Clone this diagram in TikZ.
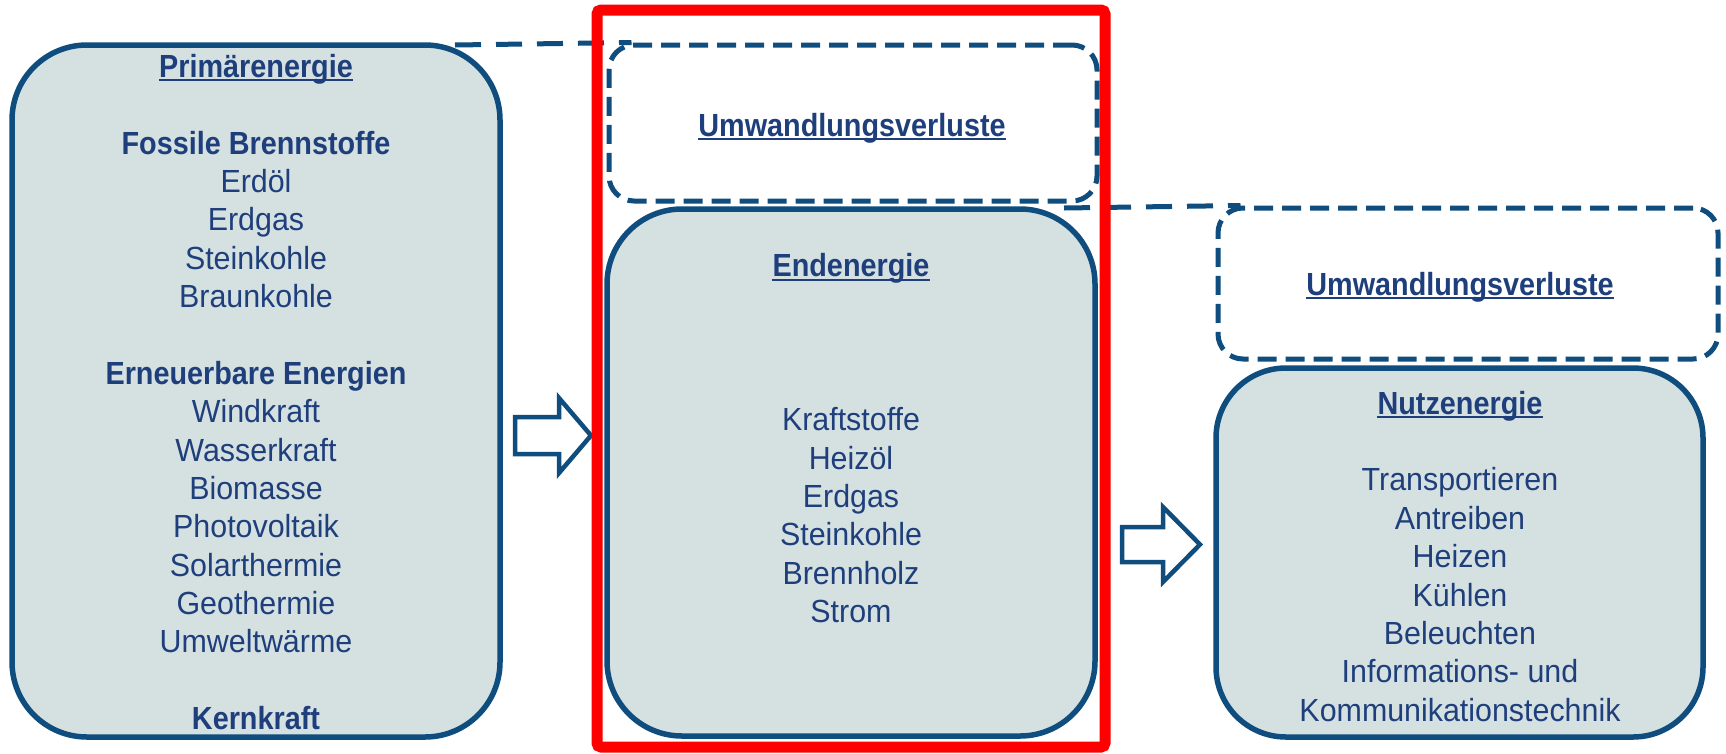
\documentclass[tikz,border=0pt]{standalone}
\usepackage{fontspec}
\setmainfont{Liberation Sans}[FakeStretch=0.95, BoldFeatures={FakeStretch=0.9}]
\definecolor{edge}{HTML}{0E4D7E}
\definecolor{boxfill}{HTML}{D5E0E1}
\definecolor{ink}{HTML}{1E3F7B}
\definecolor{frame}{HTML}{FF0000}
\newcommand{\grp}[1]{\textbf{#1}}
\tikzset{
  solidbox/.style={draw=edge, fill=boxfill, line width=5.5pt, rounded corners=75pt, inner sep=0pt, rectangle},
  lossbox/.style={draw=edge, fill=white, line width=5pt, dash pattern=on 19pt off 9pt, rounded corners=25pt, inner sep=0pt, rectangle},
  conn/.style={draw=edge, line width=5pt, dash pattern=on 26pt off 15pt},
  blockarrow/.style={draw=edge, fill=white, line width=4.5pt, miter limit=10},
  redframe/.style={draw=frame, line width=11pt, rounded corners=4pt, inner sep=0pt, rectangle},
  txt/.style={text=ink, inner sep=0pt, anchor=base, font=\fontsize{32}{38.4}\selectfont},
  ttl/.style={txt, font=\fontsize{32}{38.4}\selectfont\bfseries},
  uline/.style={draw=ink, line width=1.8pt}
}
\newcommand{\underl}[1]{\draw[uline] ([yshift=-3pt]#1.base west) -- ([yshift=-3pt]#1.base east);}
\begin{document}
\begin{tikzpicture}[x=1pt, y=-1pt]
\useasboundingbox (0,0) rectangle (1726,753);
% boxes
\node[solidbox, minimum width=488pt, minimum height=692pt] (prim) at (256,391) {};
\node[lossbox, minimum width=488pt, minimum height=156pt] (loss1) at (853,123) {};
\node[solidbox, minimum width=488pt, minimum height=527pt] (end) at (851,472.5) {};
\node[lossbox, minimum width=500pt, minimum height=151pt] (loss2) at (1468,283.5) {};
\node[solidbox, rounded corners=70pt, minimum width=487pt, minimum height=369pt] (nutz) at (1459.5,552.5) {};
% dashed connectors
\coordinate (c1) at (455,45);
\coordinate (c2) at (1064,208);
\draw[conn] (c1) -- ([xshift=25pt]loss1.north west);
\draw[conn] (c2) -- ([xshift=25pt]loss2.north west);
% titles
\node[ttl] (pt) at (256,77.3) {Primärenergie};
\node[ttl] (l1t) at (852,136) {Umwandlungsverluste};
\node[ttl] (et) at (851,276.7) {Endenergie};
\node[ttl] (l2t) at (1460,295) {Umwandlungsverluste};
\node[ttl] (nt) at (1460,414) {Nutzenergie};
\underl{pt}\underl{l1t}\underl{et}\underl{l2t}\underl{nt}
% texts
\foreach \t/\y [count=\i] in {
  {\grp{Fossile Brennstoffe}}/154,
  Erdöl/192.4, Erdgas/230.7, Steinkohle/269.1, Braunkohle/307.5,
  {\grp{Erneuerbare Energien}}/384.2,
  Windkraft/422.6, Wasserkraft/461, Biomasse/499.3, Photovoltaik/537.7,
  Solarthermie/576, Geothermie/614.4, Umweltwärme/652.8,
  {\grp{Kernkraft}}/729.5}
  \node[txt] (pt\i) at (256,\y) {\t};
\foreach \t/\y [count=\i] in {
  Kraftstoffe/430.7, Heizöl/469.1, Erdgas/507.5, Steinkohle/545.9,
  Brennholz/584.3, Strom/622.7}
  \node[txt] (et\i) at (851,\y) {\t};
\foreach \t/\y [count=\i] in {
  Transportieren/490.8, Antreiben/529.2, Heizen/567.6, Kühlen/606,
  Beleuchten/644.4, Informations- und/682.8, Kommunikationstechnik/721.2}
  \node[txt] (nt\i) at (1460,\y) {\t};
% block arrows
\draw[blockarrow] (515,417) -- (559,417) -- (559,398) -- (591,435.5) -- (559,473) -- (559,454) -- (515,454) -- cycle;
\draw[blockarrow] (1122,527) -- (1163,527) -- (1163,507) -- (1200,544.5) -- (1163,582) -- (1163,562) -- (1122,562) -- cycle;
% red frame
\node[redframe, minimum width=508pt, minimum height=737pt] (frame) at (851,378.5) {};
\end{tikzpicture}
\end{document}
